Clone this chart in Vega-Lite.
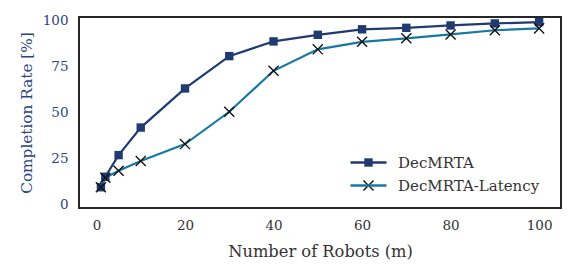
{
  "$schema": "https://vega.github.io/schema/vega-lite/v6.json",
  "width": 482,
  "height": 191,
  "autosize": "none",
  "padding": {"left": 79, "top": 17, "right": 15, "bottom": 69},
  "background": "white",
  "config": {
    "font": "DejaVu Serif",
    "view": {"stroke": "#262626", "strokeWidth": 2},
    "axis": {"grid": false, "ticks": false, "domain": false, "labelFont": "DejaVu Serif", "titleFont": "DejaVu Serif", "titleFontWeight": "normal"},
    "legend": {"labelFont": "DejaVu Serif"}
  },
  "data": {
    "values": [
      {"m": 1, "rate": 9.3, "series": "DecMRTA"},
      {"m": 2, "rate": 15.0, "series": "DecMRTA"},
      {"m": 5, "rate": 26.8, "series": "DecMRTA"},
      {"m": 10, "rate": 41.8, "series": "DecMRTA"},
      {"m": 20, "rate": 63.1, "series": "DecMRTA"},
      {"m": 30, "rate": 80.7, "series": "DecMRTA"},
      {"m": 40, "rate": 88.7, "series": "DecMRTA"},
      {"m": 50, "rate": 92.3, "series": "DecMRTA"},
      {"m": 60, "rate": 95.3, "series": "DecMRTA"},
      {"m": 70, "rate": 96.1, "series": "DecMRTA"},
      {"m": 80, "rate": 97.4, "series": "DecMRTA"},
      {"m": 90, "rate": 98.5, "series": "DecMRTA"},
      {"m": 100, "rate": 99.2, "series": "DecMRTA"},
      {"m": 1, "rate": 9.3, "series": "DecMRTA-Latency"},
      {"m": 2, "rate": 14.5, "series": "DecMRTA-Latency"},
      {"m": 5, "rate": 18.3, "series": "DecMRTA-Latency"},
      {"m": 10, "rate": 23.6, "series": "DecMRTA-Latency"},
      {"m": 20, "rate": 32.8, "series": "DecMRTA-Latency"},
      {"m": 30, "rate": 50.4, "series": "DecMRTA-Latency"},
      {"m": 40, "rate": 72.7, "series": "DecMRTA-Latency"},
      {"m": 50, "rate": 84.4, "series": "DecMRTA-Latency"},
      {"m": 60, "rate": 88.5, "series": "DecMRTA-Latency"},
      {"m": 70, "rate": 90.4, "series": "DecMRTA-Latency"},
      {"m": 80, "rate": 92.5, "series": "DecMRTA-Latency"},
      {"m": 90, "rate": 94.8, "series": "DecMRTA-Latency"},
      {"m": 100, "rate": 95.8, "series": "DecMRTA-Latency"}
    ]
  },
  "encoding": {
    "x": {
      "field": "m", "type": "quantitative",
      "scale": {"domain": [-3.95, 104.95], "nice": false, "zero": false},
      "axis": {"values": [0, 20, 40, 60, 80, 100], "title": "Number of Robots (m)", "labelFontSize": 13.5, "labelColor": "#333333", "labelPadding": 10, "titleFontSize": 16.3, "titleColor": "#333333", "titlePadding": 12}
    },
    "y": {
      "field": "rate", "type": "quantitative",
      "scale": {"domain": [-2, 102], "nice": false, "zero": false},
      "axis": {"values": [0, 25, 50, 75, 100], "title": "Completion Rate [%]", "labelFontSize": 13.5, "labelColor": "#2b4583", "labelPadding": 11, "titleFontSize": 15.3, "titleColor": "#2b4583", "titlePadding": 8}
    }
  },
  "layer": [
    {
      "mark": {"type": "line", "strokeWidth": 2.2},
      "encoding": {
        "stroke": {
          "field": "series", "type": "nominal",
          "scale": {"domain": ["DecMRTA", "DecMRTA-Latency"], "range": ["#1f3b72", "#1878a3"]},
          "legend": {"title": null, "orient": "none", "legendX": 282, "legendY": 138, "padding": 0, "symbolType": "M-3,0H3", "symbolSize": 144, "symbolStrokeWidth": 2.4, "labelFontSize": 15, "labelColor": "#333333", "labelOffset": 22, "rowPadding": 7}
        }
      }
    },
    {
      "mark": {"type": "point", "filled": true, "opacity": 1, "size": 144},
      "encoding": {
        "shape": {
          "field": "series", "type": "nominal",
          "scale": {"domain": ["DecMRTA", "DecMRTA-Latency"], "range": ["M-0.7,-0.7H0.7V0.7H-0.7Z", "M-0.76,-0.92L0.92,0.76L0.76,0.92L-0.92,-0.76ZM-0.92,0.76L0.76,-0.92L0.92,-0.76L-0.76,0.92Z"]},
          "legend": {"title": null, "orient": "none", "legendX": 282, "legendY": 138, "padding": 0, "symbolSize": 144, "symbolStrokeWidth": 0, "labelFontSize": 15, "labelExpr": "''", "labelOffset": 22, "rowPadding": 7}
        },
        "fill": {
          "field": "series", "type": "nominal",
          "scale": {"domain": ["DecMRTA", "DecMRTA-Latency"], "range": ["#1f3b72", "#111111"]},
          "legend": {"title": null, "orient": "none", "legendX": 282, "legendY": 138, "padding": 0, "symbolSize": 144, "symbolStrokeWidth": 0, "labelFontSize": 15, "labelExpr": "''", "labelOffset": 22, "rowPadding": 7}
        }
      }
    }
  ],
  "resolve": {"legend": {"stroke": "independent"}}
}
